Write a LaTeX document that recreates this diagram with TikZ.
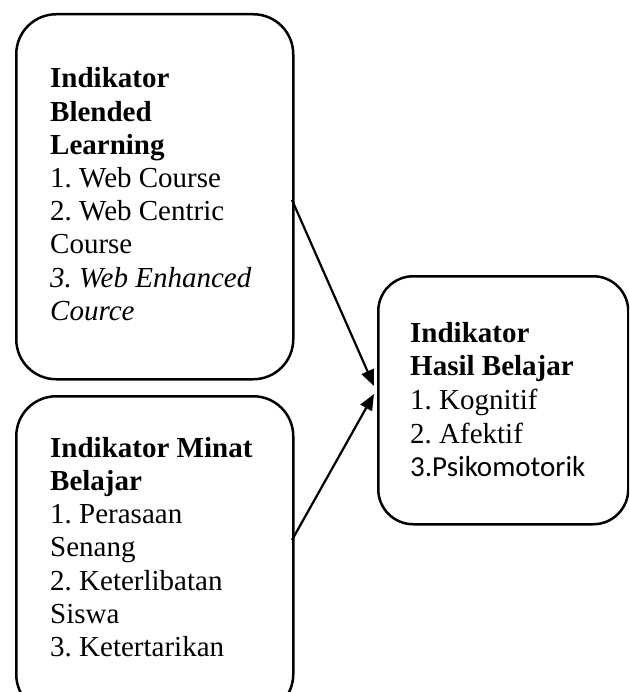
\documentclass[tikz,border=0pt]{standalone}
\usepackage{fontspec}
\setmainfont{Liberation Serif}
\newfontfamily\calib{Carlito}
\usetikzlibrary{arrows.meta}
\frenchspacing
\begin{document}
\begin{tikzpicture}[x=1pt,y=-1pt,
  box/.style={draw,line width=2.5pt,rounded corners=#1,anchor=north west,inner sep=0pt},
  box/.default=40pt,
  txt/.style={anchor=base west,inner sep=0pt,font=\fontsize{29}{33}\selectfont},
  arr/.style={line width=2.2pt,-{Triangle[length=16pt,width=13pt]}}]
\useasboundingbox (0,0) rectangle (629,692);
\clip (0,0) rectangle (629,692);
\node[box,minimum width=277pt,minimum height=365pt] (b1) at (15,13) {};
\node[box,minimum width=277pt,minimum height=318pt] (b2) at (15,395) {};
\node[box=35pt,minimum width=250pt,minimum height=248pt] (b3) at (377,275) {};
\foreach \t [count=\i from 0] in {{\bfseries Indikator},{\bfseries Blended},{\bfseries Learning},{1. Web Course},{2. Web Centric},{Course},{\itshape 3. Web Enhanced},{\itshape Cource}}
  \node[txt] (ta\i) at (50,{88+33.2*\i}) {\t};
\foreach \t [count=\i from 0] in {{\bfseries Indikator Minat},{\bfseries Belajar},{1. Perasaan},{Senang},{2. Keterlibatan},{Siswa},{3. Ketertarikan}}
  \node[txt] (tb\i) at (50,{457+33.3*\i}) {\t};
\foreach \t [count=\i from 0] in {{\bfseries Indikator},{\bfseries Hasil Belajar},{1. Kognitif},{2. Afektif},{\calib 3.Psikomotorik}}
  \node[txt] (tc\i) at (410,{342+33.7*\i}) {\t};
\coordinate (s1) at (292,200);
\coordinate (s2) at (292,540);
\coordinate (e1) at (374,386);
\coordinate (e2) at (374,394);
\draw[arr] (s1) -- (e1);
\draw[arr] (s2) -- (e2);
\end{tikzpicture}
\end{document}
